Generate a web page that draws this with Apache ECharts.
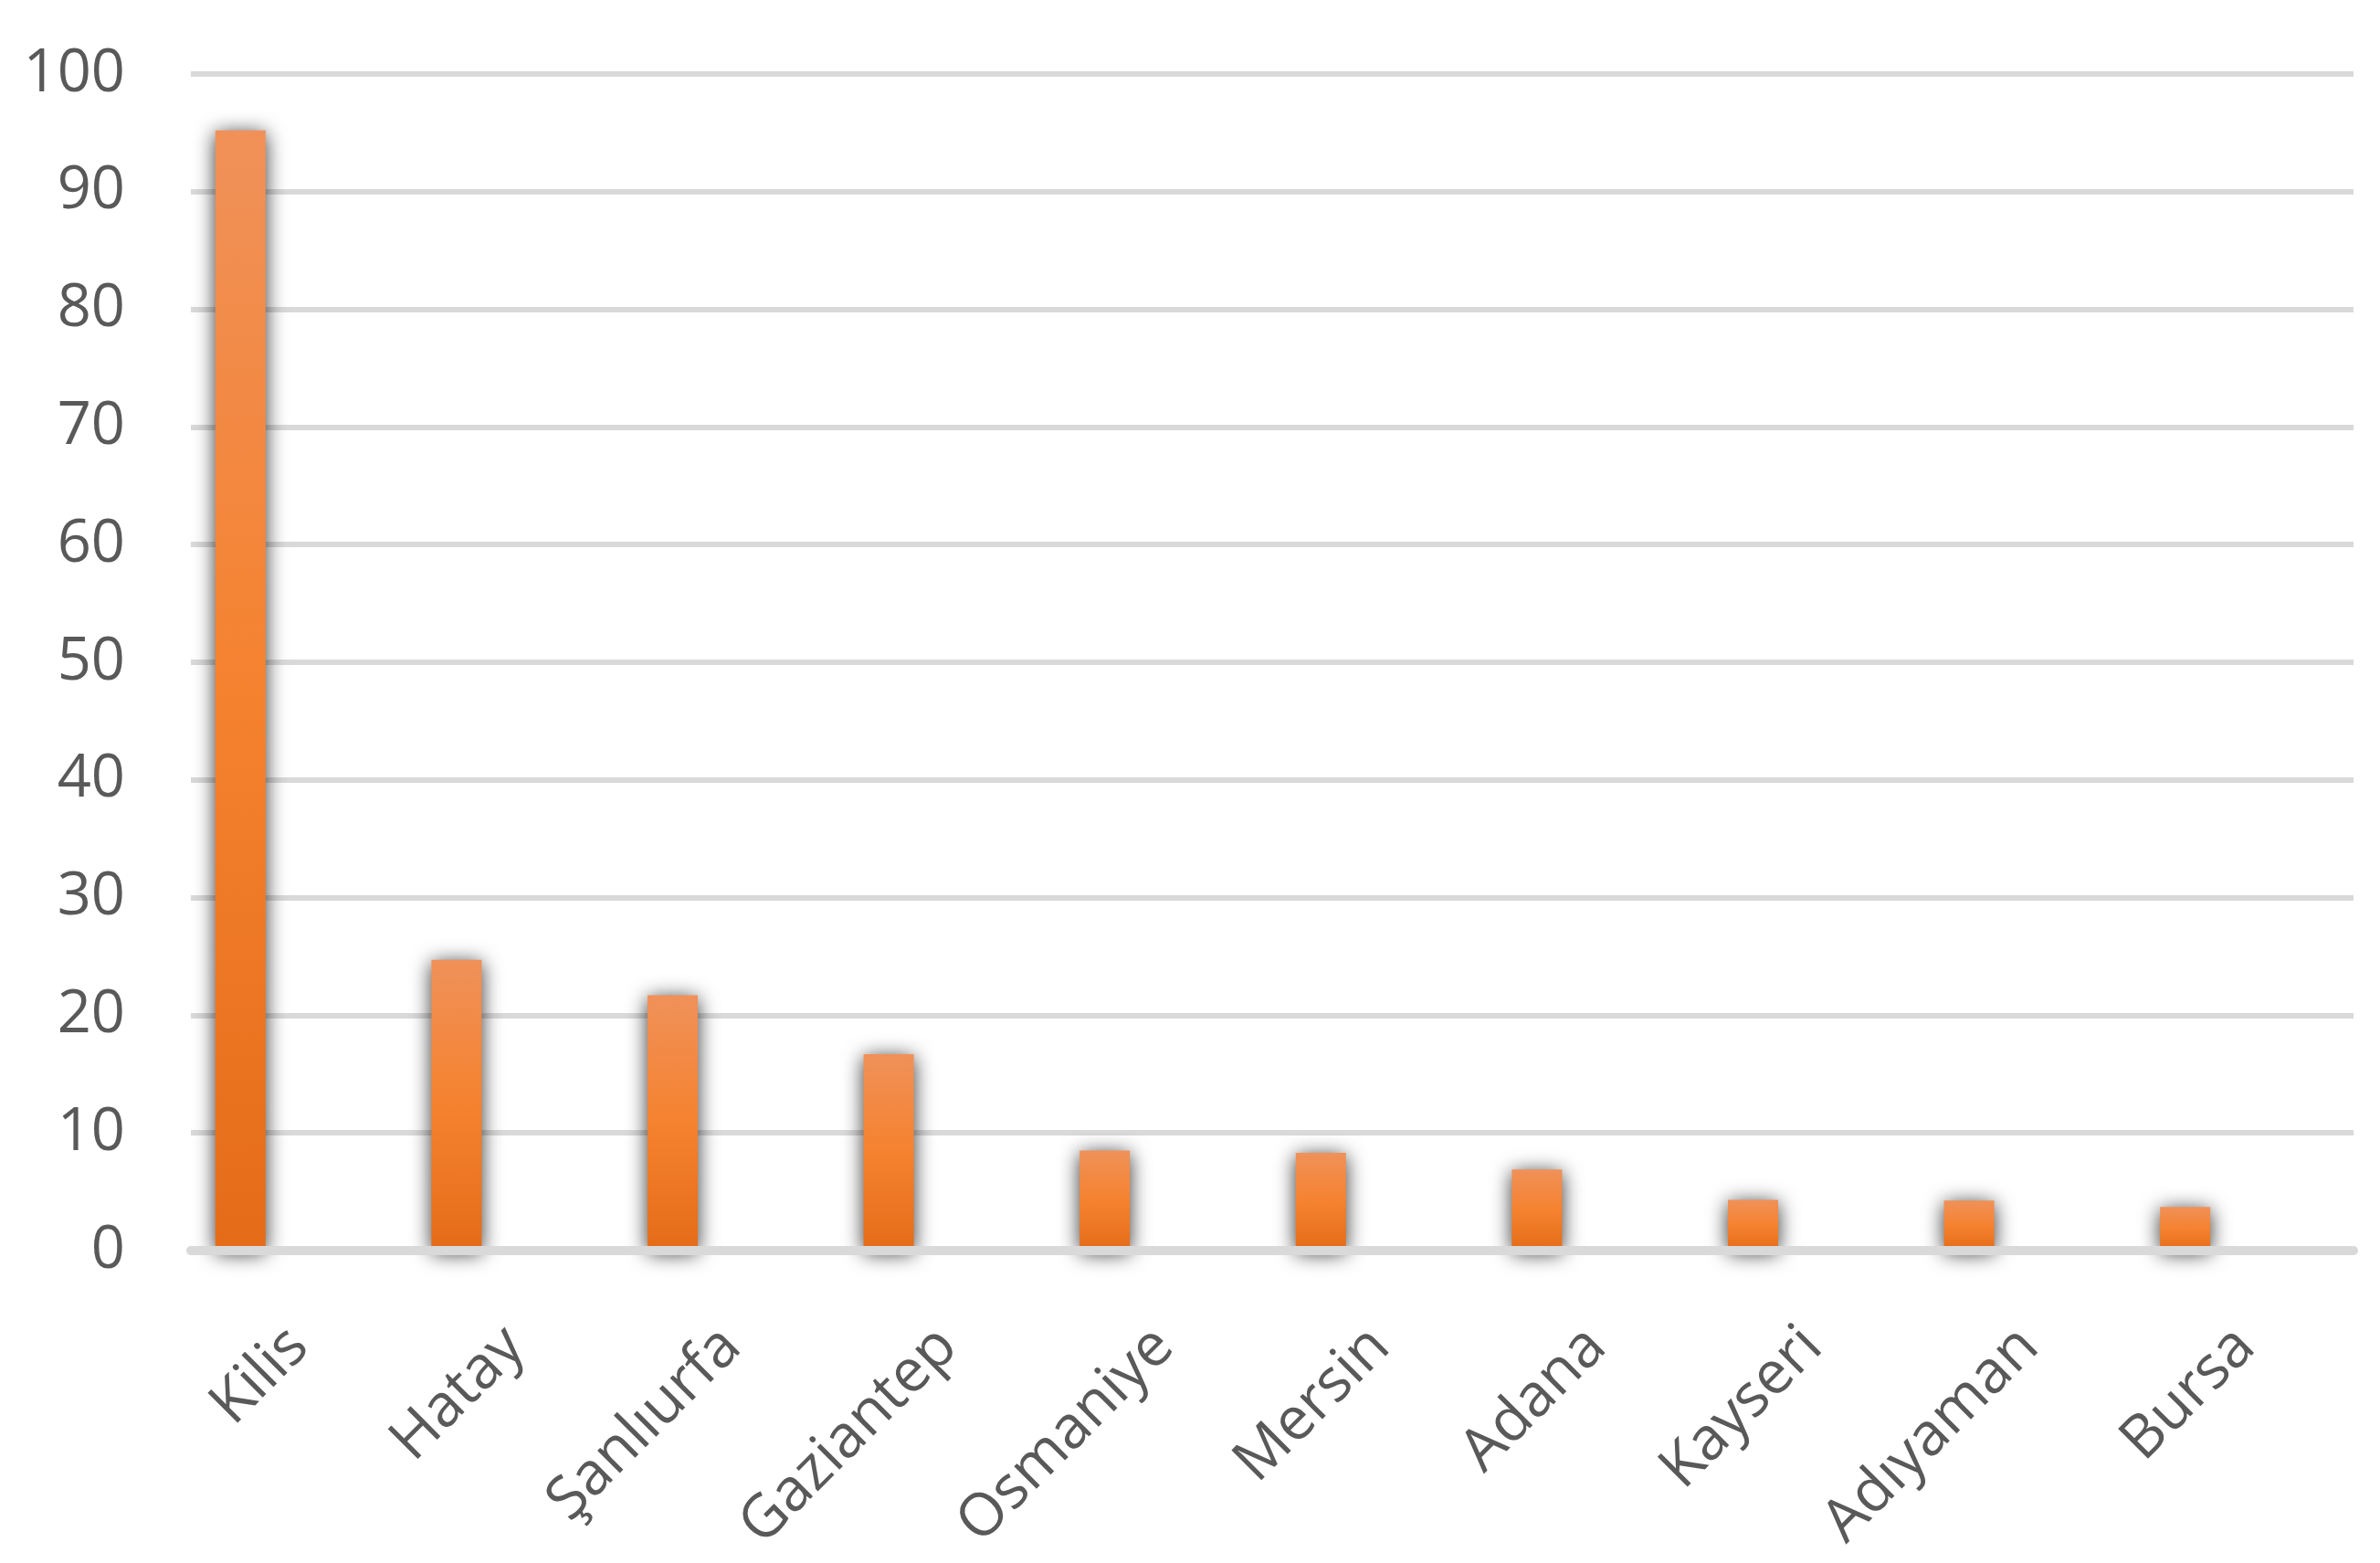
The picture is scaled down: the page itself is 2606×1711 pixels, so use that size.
<!DOCTYPE html>
<html><head><meta charset="utf-8">
<script src="https://cdn.jsdelivr.net/npm/echarts@6/dist/echarts.min.js"></script>
<style>html,body{margin:0;padding:0;background:#fff}#c{width:2606px;height:1711px}</style>
</head><body><div id="c"></div>
<script>
const categories = ['Kilis','Hatay','Şanlıurfa','Gaziantep','Osmaniye','Mersin','Adana','Kayseri','Adıyaman','Bursa'];
const values = [95.2, 24.7, 21.7, 16.7, 8.5, 8.3, 6.9, 4.3, 4.25, 3.7];
const yMin = 0, yMax = 100, yInterval = 10;

const chart = echarts.init(document.getElementById('c'), null, {renderer: 'canvas'});
const labelFont = {fontFamily: 'Open Sans', fontSize: 65, color: '#595959'};
chart.setOption({
  animation: false,
  backgroundColor: '#ffffff',
  grid: [
    {left: 209, right: 29, top: 81, bottom: 342},
    {left: 145, right: 95, top: 81, bottom: 342}
  ],
  xAxis: [
    {type: 'category', gridIndex: 0, data: categories, z: 5,
     axisLine: {show: true, lineStyle: {color: '#D9D9D9', width: 10}},
     axisTick: {show: false},
     axisLabel: Object.assign({rotate: 45, margin: 95, interval: 0}, labelFont)},
    {type: 'category', gridIndex: 1, data: categories, show: false}
  ],
  yAxis: [
    {type: 'value', gridIndex: 0, min: yMin, max: yMax, interval: yInterval,
     axisLine: {show: false}, axisTick: {show: false},
     splitLine: {show: true, lineStyle: {color: '#D9D9D9', width: 6}},
     axisLabel: Object.assign({margin: 72}, labelFont)},
    {type: 'value', gridIndex: 1, min: yMin, max: yMax, interval: yInterval, show: false,
     splitLine: {show: false}}
  ],
  series: [{
    type: 'bar', xAxisIndex: 1, yAxisIndex: 1, data: values, barWidth: 55,
    itemStyle: {
      color: new echarts.graphic.LinearGradient(0, 0, 0, 1, [
        {offset: 0, color: '#F09159'},
        {offset: 0.5, color: '#F5822F'},
        {offset: 1, color: '#E46C18'}
      ]),
      shadowBlur: 22, shadowColor: 'rgba(0,0,0,0.8)', shadowOffsetY: 3
    }
  }]
});
</script></body></html>
